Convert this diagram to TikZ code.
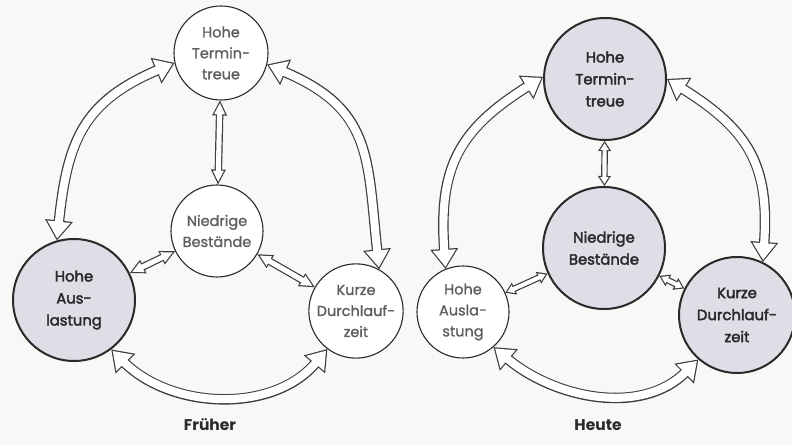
\documentclass[tikz,border=0pt]{standalone}
\usepackage{fontspec}
\setmainfont{Poppins}
\newfontfamily\semib[FakeBold=2.5]{Poppins}
\newfontfamily\midw[FakeBold=1.2]{Poppins}
\usetikzlibrary{decorations.markings}
\definecolor{bg}{HTML}{F8F8F6}
\definecolor{shade}{HTML}{DDDEE6}
\definecolor{ink}{HTML}{2A2A2A}
\definecolor{lightink}{HTML}{5E5E5E}
\definecolor{arrowink}{HTML}{3C3C3C}
\tikzset{
  plainc/.style={circle, draw=ink, line width=1.1pt, fill=white, minimum size=#1,
    inner sep=0pt, align=center, text=lightink,
    font=\midw\fontsize{14.5}{21}\selectfont},
  shadec/.style={circle, draw=ink, line width=2pt, fill=shade, minimum size=#1,
    inner sep=0pt, align=center, text=ink,
    font=\semib\fontsize{14.8}{22}\selectfont},
  caption/.style={font=\bfseries\fontsize{15.5}{18}\selectfont, text=ink},
  % generic hollow arrow layers: #1 colour, #2 shaft width, #3 shorten,
  % #4 apex offset, #5 base offset, #6 half width
  hlayer/.style n args={6}{draw=#1, line width=#2, shorten <=#3, shorten >=#3,
    postaction={decorate, decoration={markings,
      mark=at position 0 with {\fill[#1] (#4,0pt) -- (#5,#6) -- (#5,-#6) -- cycle;},
      mark=at position -0.2pt with {\fill[#1] (-#4+0.2pt,0pt) -- (-#5+0.2pt,#6) -- (-#5+0.2pt,-#6) -- cycle;}}}},
  bigo/.style={hlayer={arrowink}{10.5pt}{18pt}{0pt}{20pt}{14pt}},
  bigi/.style={hlayer={white}{8.1pt}{17pt}{2.09pt}{18.8pt}{11.7pt}},
  mido/.style={hlayer={arrowink}{7.5pt}{13.5pt}{0pt}{15pt}{7.5pt}},
  midi/.style={hlayer={white}{5.1pt}{12.5pt}{2.68pt}{13.8pt}{5.56pt}},
  tinyo/.style={hlayer={arrowink}{6.5pt}{9pt}{0pt}{10pt}{6.5pt}},
  tinyi/.style={hlayer={white}{4.1pt}{8pt}{2.2pt}{8.8pt}{4.29pt}},
}
\newcommand\harrow[2]{\path[#1o] #2; \path[#1i] #2;}
\begin{document}
\begin{tikzpicture}[x=1pt,y=1pt]
\fill[bg] (0,0) rectangle (792,445);
\useasboundingbox (0,0) rectangle (792,445);
% ---------- Frueher ----------
\node[plainc=94] (T1) at (221,392) {Hohe\\Termin-\\treue};
\node[plainc=92] (N1) at (217,214) {Niedrige\\Bestände};
\node[shadec=122] (A1) at (74,145) {Hohe\\Aus-\\lastung};
\node[plainc=90] (K1) at (356,134) {Kurze\\Durchlauf-\\zeit};
\node[caption] (F) at (210,20) {Früher};
\harrow{big}{(T1.192) to[out=203,in=84,looseness=1.2] (A1.106)}
\harrow{big}{(T1.346) to[out=-23,in=96,looseness=1.25] (K1.61)}
\harrow{big}{(A1.307) to[out=-45,in=-130] (K1.233)}
\harrow{mid}{(T1) -- (N1)}
\harrow{mid}{(N1) -- (A1)}
\harrow{mid}{(N1) -- (K1)}
% ---------- Heute ----------
\node[shadec=122] (T2) at (605,366) {Hohe\\Termin-\\treue};
\node[shadec=122] (N2) at (604,197) {Niedrige\\Bestände};
\node[plainc=92] (A2) at (463,133) {Hohe\\Ausla-\\stung};
\node[shadec=116] (K2) at (737,130) {Kurze\\Durchlauf-\\zeit};
\node[caption] (H) at (598,20) {Heute};
\harrow{big}{(T2.178) to[out=212,in=94,looseness=1.2] (A2.112)}
\harrow{big}{(T2.0) to[out=-32,in=86,looseness=1.2] (K2.64)}
\harrow{big}{(A2.311) to[out=-40,in=-135] (K2.229)}
\harrow{tiny}{(T2) -- (N2)}
\harrow{tiny}{(N2) -- (A2)}
\harrow{tiny}{(N2) -- (K2)}
\end{tikzpicture}
\end{document}
